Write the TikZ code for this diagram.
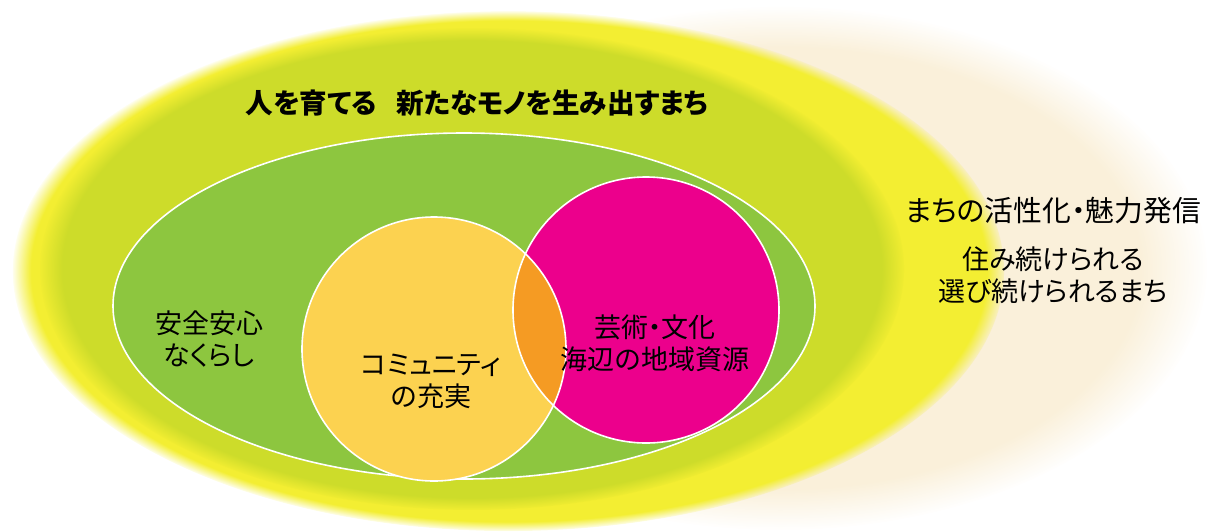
\documentclass[tikz,border=0pt]{standalone}
\usepackage{fontspec}
\setmainfont{Noto Sans CJK JP}[RawFeature=+palt]
\usetikzlibrary{fadings,positioning}
\definecolor{halo}{RGB}{250,240,218}
\definecolor{glowyellow}{RGB}{243,238,50}
\definecolor{limegreen}{RGB}{205,220,42}
\definecolor{leafgreen}{RGB}{141,198,63}
\definecolor{sunyellow}{RGB}{252,210,80}
\definecolor{pinkred}{RGB}{236,0,140}
\definecolor{overlaporange}{RGB}{245,155,35}
% fadings with a narrow soft rim
\pgfdeclareradialshading{rimsoft}{\pgfpointorigin}{color(0bp)=(pgftransparent!0); color(21bp)=(pgftransparent!0); color(25bp)=(pgftransparent!100); color(50bp)=(pgftransparent!100)}
\pgfdeclarefading{soft rim}{\pgfuseshading{rimsoft}}
\pgfdeclareradialshading{rimmid}{\pgfpointorigin}{color(0bp)=(pgftransparent!0); color(23.6bp)=(pgftransparent!0); color(25bp)=(pgftransparent!100); color(50bp)=(pgftransparent!100)}
\pgfdeclarefading{mid rim}{\pgfuseshading{rimmid}}
\pgfdeclareradialshading{rimthin}{\pgfpointorigin}{color(0bp)=(pgftransparent!0); color(24bp)=(pgftransparent!0); color(25bp)=(pgftransparent!100); color(50bp)=(pgftransparent!100)}
\pgfdeclarefading{thin rim}{\pgfuseshading{rimthin}}
\tikzstyle{bubble} = [draw=white, line width=0.8pt]
\tikzstyle{areatext} = [align=center, text=black, font=\fontsize{13.5}{16}\selectfont]

\begin{document}
\begin{tikzpicture}[x=0.5pt,y=-0.5pt]
      \useasboundingbox (0,0) rectangle (1216,531);
      % soft outer glows
      \fill[halo, path fading=soft rim] (780,268) ellipse [x radius=428, y radius=262];
      \fill[glowyellow, path fading=thin rim] (509,271) ellipse [x radius=496, y radius=260];
      \fill[limegreen, path fading=mid rim] (472,269) ellipse [x radius=432, y radius=241];
      %
      \fill[leafgreen, bubble] (464,306) ellipse [x radius=351, y radius=173];
      \fill[sunyellow] (434,349) circle [radius=132];
      \fill[pinkred] (646,310) circle [radius=133];
      \begin{scope}
        \clip (434,349) circle [radius=132];
        \fill[overlaporange] (646,310) circle [radius=133];
      \end{scope}
      \draw[bubble] (434,349) circle [radius=132];
      \draw[bubble] (646,310) circle [radius=133];
      %
      \node[font=\bfseries\fontsize{13.8}{15}\selectfont] (TownTitle) at (477,103) {人を育てる\hspace{0.7em}新たなモノを生み出すまち};
      \node[areatext] (SafeLife) at (209,339) {安全安心\\なくらし};
      \node[areatext] (Community) at (431,381) {コミュニティ\\の充実};
      \node[areatext] (ArtCulture) at (655,343) {芸術・文化\\海辺の地域資源};
      \node[areatext,font=\fontsize{14.4}{16}\selectfont] (TownAppeal) at (1053,211) {まちの活性化・魅力発信};
      \node[areatext,below=4pt of TownAppeal] (TownLiving) {住み続けられる\\選び続けられるまち};
\end{tikzpicture}
\end{document}
